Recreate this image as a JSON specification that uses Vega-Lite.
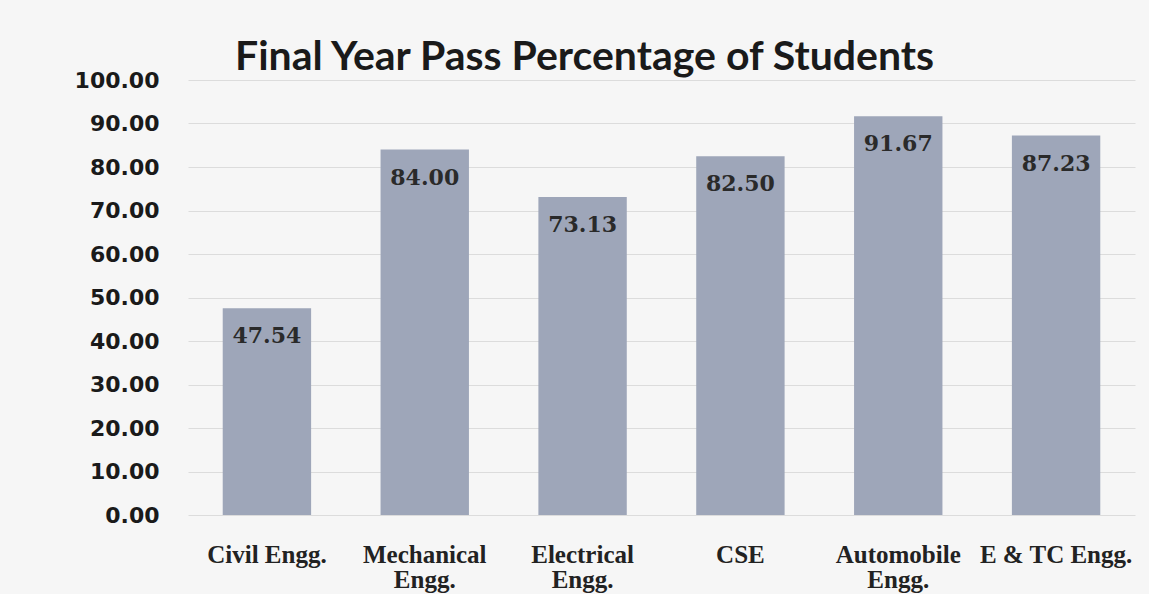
{
  "$schema": "https://vega.github.io/schema/vega-lite/v6.json",
  "width": 947,
  "height": 435,
  "autosize": "none",
  "padding": {"left": 188, "top": 80, "right": 14, "bottom": 79},
  "background": "#f6f6f6",
  "title": {
    "text": "Final Year Pass Percentage of Students",
    "font": "Lato",
    "fontSize": 41,
    "fontWeight": "bold",
    "color": "#1a1a1a",
    "anchor": "middle",
    "dx": -77,
    "offset": -10
  },
  "data": {
    "values": [
      {"branch": "Civil Engg.", "pct": 47.54},
      {"branch": "Mechanical Engg.", "pct": 84.00},
      {"branch": "Electrical Engg.", "pct": 73.13},
      {"branch": "CSE", "pct": 82.50},
      {"branch": "Automobile Engg.", "pct": 91.67},
      {"branch": "E & TC Engg.", "pct": 87.23}
    ]
  },
  "config": {"view": {"stroke": null}},
  "encoding": {
    "x": {
      "field": "branch",
      "type": "nominal",
      "sort": null,
      "scale": {"paddingInner": 0.44, "paddingOuter": 0.22},
      "axis": {
        "title": null,
        "labelAngle": 0,
        "labelFont": "Liberation Serif",
        "labelFontSize": 25,
        "labelFontWeight": "bold",
        "labelColor": "#222",
        "labelPadding": 27,
        "labelLineHeight": 25,
        "ticks": false,
        "domain": false,
        "labelExpr": "datum.value == 'Civil Engg.' || datum.value == 'E & TC Engg.' ? datum.value : split(datum.value, ' ')"
      }
    },
    "y": {
      "field": "pct",
      "type": "quantitative",
      "scale": {"domain": [0, 100]},
      "axis": {
        "title": null,
        "values": [0, 10, 20, 30, 40, 50, 60, 70, 80, 90, 100],
        "format": ".2f",
        "labelFont": "DejaVu Sans",
        "labelFontSize": 22,
        "labelFontWeight": "bold",
        "labelColor": "#1a1a1a",
        "labelPadding": 29,
        "ticks": false,
        "domain": false,
        "gridColor": "#dcdcdc",
        "gridWidth": 1
      }
    }
  },
  "layer": [
    {"mark": {"type": "bar", "color": "#9ea6b9"}},
    {
      "mark": {
        "type": "text",
        "baseline": "middle",
        "dy": 28,
        "font": "DejaVu Serif",
        "fontSize": 22,
        "fontWeight": "bold",
        "color": "#2a2a2a"
      },
      "encoding": {"text": {"field": "pct", "type": "quantitative", "format": ".2f"}}
    }
  ]
}
